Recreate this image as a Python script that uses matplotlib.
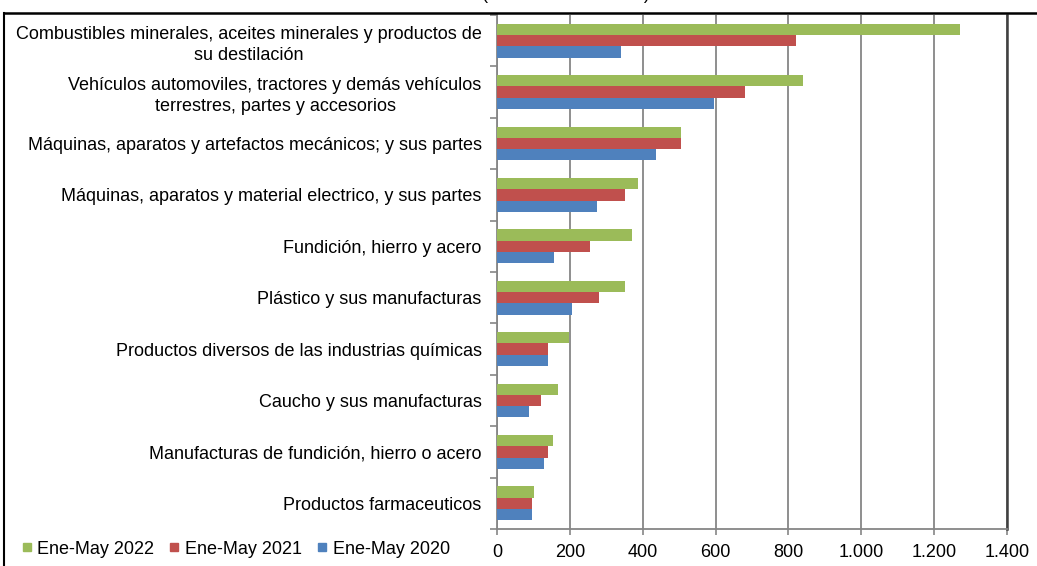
import matplotlib.pyplot as plt
from matplotlib.lines import Line2D
from matplotlib.ticker import FuncFormatter, FixedLocator
import numpy as np

plt.rcParams['font.family'] = ['Liberation Sans', 'DejaVu Sans']

categories = ['Combustibles minerales, aceites minerales y productos de\nsu destilación',
              'Vehículos automoviles, tractores y demás vehículos\nterrestres, partes y accesorios',
              'Máquinas, aparatos y artefactos mecánicos; y sus partes',
              'Máquinas, aparatos y material electrico, y sus partes',
              'Fundición, hierro y acero',
              'Plástico y sus manufacturas',
              'Productos diversos de las industrias químicas',
              'Caucho y sus manufacturas',
              'Manufacturas de fundición, hierro o acero',
              'Productos farmaceuticos']

ene_may_2022 = [1270, 841, 506, 388, 371, 352, 198, 168, 154, 102]
ene_may_2021 = [820, 682, 506, 352, 256, 280, 140, 121, 140, 96]
ene_may_2020 = [341, 597, 437, 275, 157, 206, 140, 88, 129, 96]
series_names = ['Ene-May 2022', 'Ene-May 2021', 'Ene-May 2020']
series_colors = ['#9BBB59', '#C0504D', '#4F81BD']
x_ticks = [0, 200, 400, 600, 800, 1000, 1200, 1400]

W, H = 1037, 566
fig = plt.figure(figsize=(W / 100, H / 100), dpi=100)

# plot area in pixels
left, right, top, bottom = 497, 1007, 15, 529
ax = fig.add_axes([left / W, 1 - bottom / H, (right - left) / W, (bottom - top) / H])

y = np.arange(len(categories))
bh = 0.22
for vals, off, col in zip([ene_may_2022, ene_may_2021, ene_may_2020], [-bh, 0, bh], series_colors):
    ax.barh(y + off, vals, height=bh, color=col, zorder=3)

ax.set_xlim(0, 1400)
ax.set_ylim(len(categories) - 0.5, -0.5)

ax.xaxis.set_major_locator(FixedLocator(x_ticks))
ax.xaxis.set_major_formatter(FuncFormatter(lambda v, p: f"{v:,.0f}".replace(',', '.')))
ax.tick_params(axis='x', length=4, width=1.2, color='#868686', labelsize=13, pad=7)
ax.grid(axis='x', color='#868686', lw=1.3, zorder=0)

# category ticks between groups, labels at centers
ax.yaxis.set_major_locator(FixedLocator(np.arange(-0.5, len(categories), 1)))
ax.yaxis.set_major_formatter(FuncFormatter(lambda v, p: ''))
ax.set_yticks(y, categories, minor=True, ha='right', multialignment='center', linespacing=1.3)
ax.tick_params(axis='y', which='major', length=5, width=1.2, color='#868686')
ax.tick_params(axis='y', which='minor', length=0, labelsize=13, pad=11)

for s in ['left', 'bottom']:
    ax.spines[s].set_color('#868686')
    ax.spines[s].set_linewidth(1.3)
ax.spines['top'].set_visible(False)
ax.spines['right'].set_color('#404040')
ax.spines['right'].set_linewidth(1.8)

# outer frame of the cropped picture
fig.add_artist(Line2D([4 / W, 1], [1 - 13 / H, 1 - 13 / H], color='black', lw=1.8))
fig.add_artist(Line2D([4 / W, 4 / W], [0, 1 - 13 / H], color='black', lw=1.5))

# heading, cut off by the top edge as in the source picture
fig.text(566 / W, 1 + 1 / H, '(Millones de dólares)', ha='center', va='baseline', fontsize=13)

handles = [Line2D([], [], marker='s', ls='none', ms=6, color=c) for c in series_colors]
fig.legend(handles, series_names, loc='center left', bbox_to_anchor=(14 / W, 1 - 549 / H),
           ncol=3, frameon=False, fontsize=13, handlelength=0.6, handletextpad=0.3,
           columnspacing=0.8, borderaxespad=0)

fig.savefig('out.png', dpi=100)
